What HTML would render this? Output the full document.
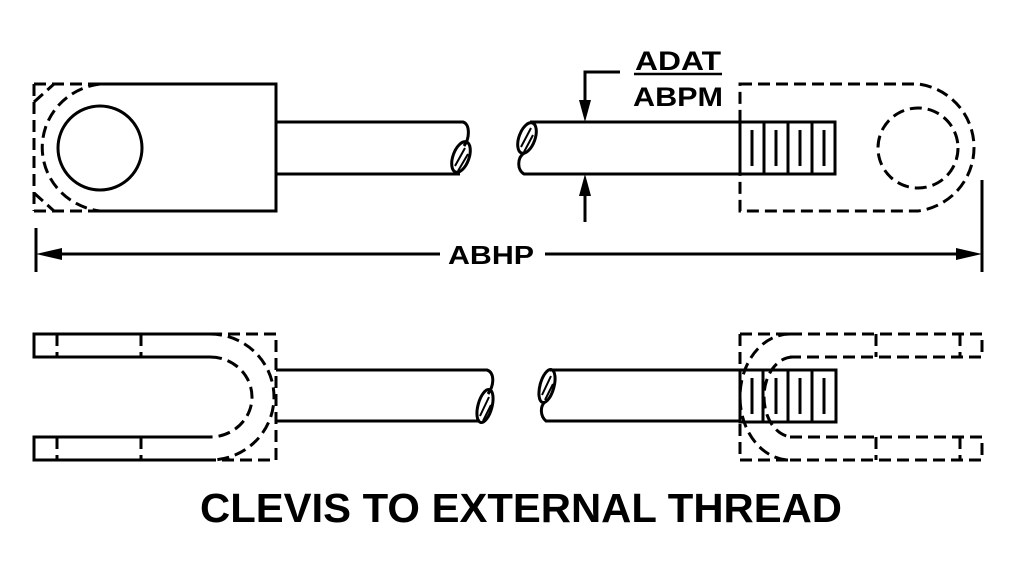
<!DOCTYPE html>
<html><head><style>
html,body{margin:0;padding:0;background:#fff;}
svg{display:block;}
text{font-family:"Liberation Sans",sans-serif;font-weight:bold;fill:#000;}
</style></head><body>
<svg width="1020" height="570" viewBox="0 0 1020 570" xmlns="http://www.w3.org/2000/svg">
<g fill="none" stroke="#000" stroke-width="3">
<polyline points="100,84 276,84 276,211 100,211"/>
<g stroke-dasharray="12,6">
<path d="M34,84 H100 M34,84 V211 M34,211 H100"/>
<path d="M100,84 A66,64 0 0 0 100,211"/>
<path d="M34,102 L54,84 M34,193 L54,211"/>
</g>
<circle cx="100" cy="148" r="42"/>
<path d="M276,122 H463 C470,124 470,138 464,146"/>
<path d="M276,174 H460"/>
<ellipse cx="461" cy="157" rx="8" ry="16" transform="rotate(20 461 157)"/>
<path d="M455,166 L465,148 M458,171 L468,154" stroke-width="2"/>
<ellipse cx="527" cy="138" rx="8" ry="16" transform="rotate(20 527 138)"/>
<path d="M521,147 L531,128 M524,152 L533,135" stroke-width="2"/>
<path d="M524,153 C517,158 517,170 524,174 H740"/>
<path d="M530,122 H740"/>
<rect x="740" y="122" width="95" height="52"/>
<path d="M764,122 V174 M788,122 V174 M812,122 V174"/>
<path d="M752,130 V166 M776,130 V166 M800,130 V166 M824,130 V166"/>
<g stroke-dasharray="12,6">
<path d="M740,84 H918 A64,64 0 0 1 918,211 H740 Z"/>
<circle cx="918" cy="148" r="40"/>
</g>
<path d="M620,72 H585 V108"/>
<path d="M585,188 V222"/>
<path d="M634,74 H722" stroke-width="2.5"/>
<path d="M36,228 V272 M982,180 V272"/>
<path d="M60,254 H440 M545,254 H960"/>
<path d="M210,334 H34 V357 H210 M210,437 H34 V460 H210"/>
<g stroke-dasharray="12,6">
<path d="M57,334 V357 M141,334 V357 M57,437 V460 M141,437 V460"/>
<path d="M210,334 H276 V460 H210"/>
<path d="M210,334 A64,63 0 0 1 210,460"/>
<path d="M210,357 A42,40 0 0 1 210,437"/>
</g>
<path d="M276,370 H487 C494,372 495,384 488,394"/>
<path d="M276,421 H480"/>
<ellipse cx="485" cy="406" rx="7" ry="17" transform="rotate(15 485 406)"/>
<path d="M480,416 L489,397 M483,421 L491,405" stroke-width="2"/>
<ellipse cx="547" cy="386" rx="7" ry="17" transform="rotate(15 547 386)"/>
<path d="M542,395 L551,376 M545,400 L553,384" stroke-width="2"/>
<path d="M545,402 C540,406 540,416 546,421 H740"/>
<path d="M550,370 H740"/>
<rect x="740" y="370" width="96" height="52"/>
<path d="M763,370 V422 M788,370 V422 M812,370 V422"/>
<path d="M752,378 V414 M776,378 V414 M800,378 V414 M824,378 V414"/>
<g stroke-dasharray="12,6">
<path d="M790,334 H982 V357 H790 M790,437 H982 V460 H790"/>
<path d="M740,334 V460"/>
<path d="M876,334 V357 M960,334 V357 M876,437 V460 M960,437 V460"/>
<path d="M790,334 A50,63 0 0 0 790,460"/>
<path d="M793,357 A29,40 0 0 0 793,437"/>
<path d="M740,334 H790 M740,460 H790"/>
</g>
</g>
<g fill="#000">
<polygon points="585,122 579,100 591,100"/>
<polygon points="585,174 579,196 591,196"/>
<polygon points="36,254 62,248 62,260"/>
<polygon points="982,254 956,248 956,260"/>
</g>
<text x="678" y="70" font-size="27" text-anchor="middle" textLength="86" lengthAdjust="spacingAndGlyphs">ADAT</text>
<text x="678" y="106" font-size="27" text-anchor="middle" textLength="90" lengthAdjust="spacingAndGlyphs">ABPM</text>
<text x="491" y="264" font-size="26" text-anchor="middle" textLength="86" lengthAdjust="spacingAndGlyphs">ABHP</text>
<text x="521" y="522" font-size="41" text-anchor="middle" textLength="642" lengthAdjust="spacingAndGlyphs">CLEVIS TO EXTERNAL THREAD</text>
</svg>
</body></html>
